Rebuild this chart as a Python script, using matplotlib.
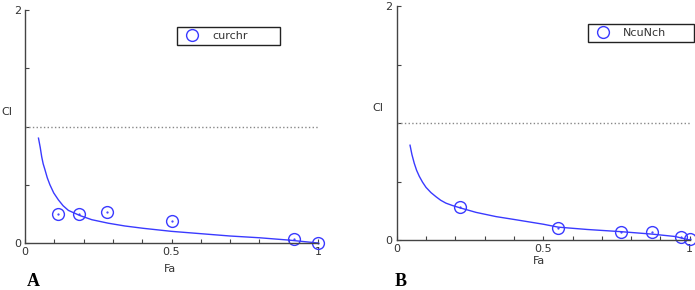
import numpy as np
from matplotlib import pyplot as plt

# panel A - curchr
fa_a = [0.113, 0.185, 0.28, 0.50, 0.918, 1.0]
ci_a = [0.25, 0.25, 0.27, 0.19, 0.035, 0.0]
curve_fa_a = [0.046, 0.052, 0.057, 0.062, 0.068, 0.076, 0.085, 0.098, 0.114, 0.13, 0.148,
              0.188, 0.228, 0.284, 0.341, 0.404, 0.5, 0.6, 0.7, 0.8, 0.9, 1.0]
curve_ci_a = [0.90, 0.82, 0.74, 0.68, 0.63, 0.56, 0.50, 0.43, 0.37, 0.32, 0.28,
              0.235, 0.20, 0.17, 0.146, 0.126, 0.10, 0.08, 0.06, 0.045, 0.025, 0.0]

# panel B - NcuNch
fa_b = [0.216, 0.551, 0.767, 0.873, 0.972, 1.0]
ci_b = [0.28, 0.105, 0.071, 0.066, 0.023, 0.006]
curve_fa_b = [0.0455, 0.052, 0.060, 0.068, 0.077, 0.088, 0.100, 0.117, 0.134, 0.15, 0.168, 0.19, 0.216,
              0.271, 0.339, 0.402, 0.5, 0.551, 0.65, 0.767, 0.873, 0.95, 1.0]
curve_ci_b = [0.81, 0.73, 0.655, 0.595, 0.545, 0.495, 0.45, 0.405, 0.37, 0.34, 0.315, 0.295, 0.275,
              0.236, 0.20, 0.175, 0.135, 0.11, 0.09, 0.071, 0.05, 0.03, 0.0]

W, H = 695, 290
fig = plt.figure(figsize=(W / 100, H / 100), dpi=100)

blue = '#3a3aff'


def panel(rect, fa, ci, cfa, cci, name, leg_px, ylab, xlab):
    ax = fig.add_axes(rect)
    ax.plot(cfa, cci, color=blue, lw=1.0, clip_on=False)
    ax.plot(fa, ci, 'o', mfc='none', mec=blue, ms=8.5, mew=1.0, clip_on=False, label=name)
    ax.plot(fa, ci, '.', color=blue, ms=1.2, clip_on=False)
    ax.axhline(1, color='#888888', ls=':', lw=1.0)
    ax.set_xlim(0, 1)
    ax.set_ylim(0, 2)
    for s in ['top', 'right']:
        ax.spines[s].set_visible(False)
    for s in ['left', 'bottom']:
        ax.spines[s].set_color('#444444')
        ax.spines[s].set_linewidth(1.0)
    ax.set_xticks(np.arange(0, 1.01, 0.1))
    ax.set_xticklabels(['0', '', '', '', '', '0.5', '', '', '', '', '1'])
    ax.set_yticks([0, 0.5, 1, 1.5, 2])
    ax.set_yticklabels(['0', '', '', '', '2'])
    ax.tick_params(direction='in', length=3, width=0.8, color='#444444',
                   labelsize=8, labelcolor='#333333', pad=3)
    ax.set_xlabel('Fa', fontsize=8, color='#333333')
    ax.set_ylabel('CI', fontsize=8, color='#333333', rotation=0, ha='left', va='center')
    ax.yaxis.set_label_coords(*ylab)
    ax.xaxis.set_label_coords(*xlab)
    x0, y0, x1, y1 = leg_px
    lg = ax.legend(loc='upper left', mode='expand',
                   bbox_to_anchor=(x0 / W, 1 - y0 / H, (x1 - x0) / W, -(y1 - y0) / H),
                   bbox_transform=fig.transFigure, borderaxespad=0, fancybox=False,
                   framealpha=1, edgecolor='#222222', fontsize=8, handletextpad=0.8,
                   borderpad=0.35)
    lg.get_frame().set_linewidth(1.0)
    for t in lg.get_texts():
        t.set_color('#333333')
    return ax


panel([25 / W, 1 - 243 / H, 293 / W, 233 / H], fa_a, ci_a, curve_fa_a, curve_ci_a,
      'curchr', (177, 3, 280, 27), (-0.082, 0.562), (0.495, -0.09))
panel([396.7 / W, 1 - 240 / H, 293 / W, 234 / H], fa_b, ci_b, curve_fa_b, curve_ci_b,
      'NcuNch', (588, 0, 694, 24), (-0.084, 0.564), (0.486, -0.07))

fig.text(27 / W, 1 - 282 / H, 'A', fontsize=13, fontweight='bold', family='Liberation Serif', va='center')
fig.text(395 / W, 1 - 282 / H, 'B', fontsize=13, fontweight='bold', family='Liberation Serif', va='center')

fig.savefig('out.png', dpi=100)
